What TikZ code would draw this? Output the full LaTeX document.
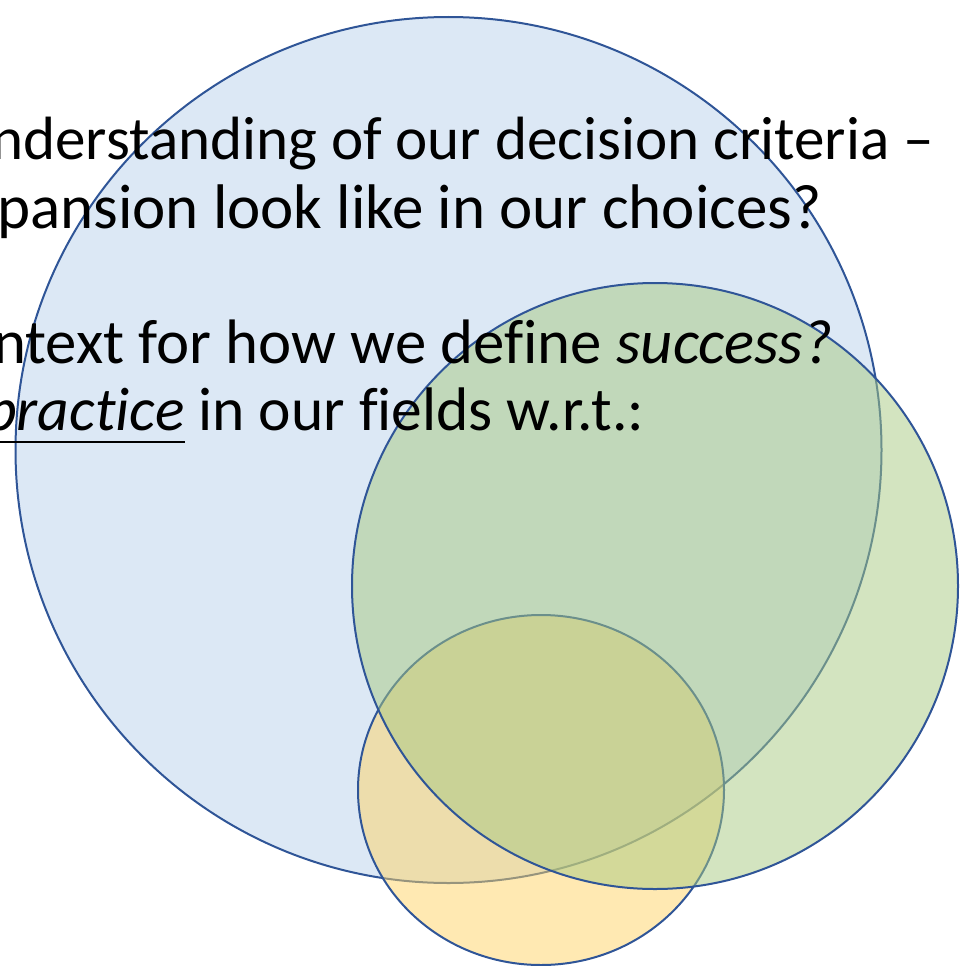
\documentclass[tikz,border=0pt]{standalone}
\usepackage{fontspec}
\setmainfont{Carlito}[Ligatures=NoCommon]
\definecolor{edge}{HTML}{2F5597}
\definecolor{bluefill}{HTML}{B9D1EB}
\definecolor{yellowfill}{HTML}{FFD365}
\definecolor{greenfill}{HTML}{A7C981}
\tikzset{
  venn/.style={draw=edge, line width=2pt, fill opacity=0.5, draw opacity=1},
  txt/.style={inner sep=0pt, font=\fontsize{#1}{70}\selectfont, text=black, anchor=base west}
}
\begin{document}
\begin{tikzpicture}[x=1pt,y=-1pt]
\useasboundingbox (0,0) rectangle (960,966);
\clip (0,0) rectangle (960,966);
\path[venn, fill=bluefill] (448.5,450) circle[radius=433pt];
\path[venn, fill=yellowfill] (541,790) ellipse[x radius=183pt, y radius=175pt];
\path[venn, fill=greenfill] (655,586) circle[radius=303pt];
\node[txt=61.1] (l1) at (-9,159) {nderstanding of our decision criteria –};
\node[txt=63] (l2) at (-3,228) {pansion look like in our choices?};
\node[txt=62.8] (l3) at (-7,363) {ntext for how we define \textit{success?}};
\node[txt=61.5] (prac) at (-15,430) {\textit{practice}};
\node[txt=61.5] (l4) at (prac.base east) {\ in our fields w.r.t.:};
\draw[line width=2.8pt] ([yshift=-12pt]prac.base west) -- ([yshift=-12pt]prac.base east);
\end{tikzpicture}
\end{document}
